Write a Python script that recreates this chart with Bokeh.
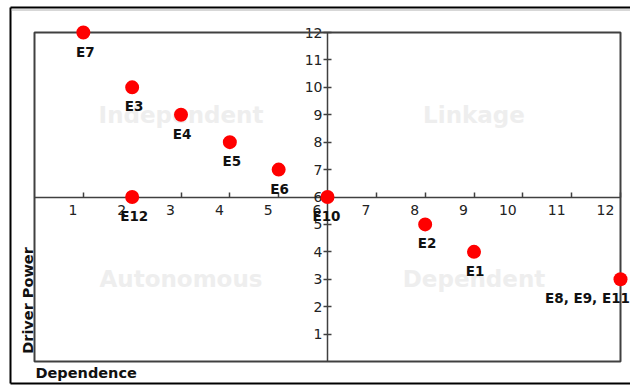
import math
from bokeh.plotting import figure
from bokeh.models import Range1d, LinearAxis, FixedTicker, ColumnDataSource
from bokeh.core.properties import value
from bokeh.embed import file_html
from bokeh.resources import INLINE

# ---------------- data ----------------
names = ["E7", "E3", "E4", "E5", "E6", "E12", "E10", "E2", "E1", "E8, E9, E11"]
dependence = [1, 2, 3, 4, 5, 2, 6, 8, 9, 12]
driver_power = [12, 10, 9, 8, 7, 6, 6, 5, 4, 3]
x_ticks = list(range(1, 13))
y_ticks = list(range(1, 13))
quadrant_names = ["Independent", "Linkage", "Autonomous", "Dependent"]
quadrant_dep = [3, 9, 3, 9]
quadrant_drv = [9, 9, 3, 3]
x_title = "Dependence"
y_title = "Driver Power"

# ---------------- layout ----------------
W, H = 630, 385
X_LIM = (0, 12)
Y_LIM = (0, 12)
MID = 6
X0_PX, X12_PX = 34, 620
Y12_PX, Y0_PX = 32, 361
sx = (X12_PX - X0_PX) / (X_LIM[1] - X_LIM[0])
sy = (Y0_PX - Y12_PX) / (Y_LIM[1] - Y_LIM[0])


def dx(px):
    return X_LIM[0] + (px - X0_PX) / sx


def dy(py):
    return Y_LIM[0] + (Y0_PX - py) / sy


label_dx = [2, 2, 1, 2, 1, 2, -1, 2, 1, -33]

FONT = "DejaVu Sans"
AXIS_COLOR = "#404040"
TICK_FONT_SIZE = "14px"

p = figure(width=W, height=H, output_backend="svg", toolbar_location=None,
           x_range=Range1d(dx(0), dx(W)), y_range=Range1d(dy(H), dy(0)),
           x_axis_type=None, y_axis_type=None,
           min_border_left=0, min_border_right=0, min_border_top=0, min_border_bottom=0)
p.outline_line_color = None
p.xgrid.visible = False
p.ygrid.visible = False
p.background_fill_color = "white"
p.border_fill_color = "white"

# outer border (left, top and bottom edges; the right edge lies beyond the page)
p.segment(x0=[dx(10), dx(10), dx(10)], x1=[dx(10), dx(W + 5), dx(W + 5)],
          y0=[dy(7), dy(7), dy(383)], y1=[dy(383), dy(7), dy(383)],
          line_color="black", line_width=2)
p.segment(x0=[dx(11)], x1=[dx(W + 5)], y0=[dy(9.5)], y1=[dy(9.5)], line_color="#b0b0b0", line_width=1)

# quadrant names
p.text(x=quadrant_dep, y=quadrant_drv, text=quadrant_names,
       text_font=value(FONT), text_font_style="bold", text_font_size="23px",
       text_color="#eeeeee", text_align="center", text_baseline="middle")

# inner frame
p.quad(left=[X_LIM[0]], right=[X_LIM[1]], bottom=[Y_LIM[0]], top=[Y_LIM[1]],
       fill_color=None, line_color=AXIS_COLOR, line_width=2)

# horizontal axis (line + ticks) crossing at the middle
xaxis = LinearAxis(fixed_location=MID, bounds=X_LIM, ticker=FixedTicker(ticks=x_ticks),
                   major_tick_in=5, major_tick_out=0, minor_tick_line_color=None,
                   axis_line_color=AXIS_COLOR, axis_line_width=1.5,
                   major_tick_line_color=AXIS_COLOR, major_tick_line_width=1.5,
                   major_label_text_color=None, major_label_text_font_size="0px")
xaxis.level = "underlay"
p.add_layout(xaxis, "below")

# its tick labels sit just left of each tick (as in the reference)
label_pos = [t - (6 + 4.5 * len(str(t))) / sx for t in x_ticks]
xlabels = LinearAxis(fixed_location=MID, bounds=X_LIM, ticker=FixedTicker(ticks=label_pos),
                     major_label_overrides={pos: str(t) for pos, t in zip(label_pos, x_ticks)},
                     major_tick_in=0, major_tick_out=0, minor_tick_line_color=None,
                     axis_line_color=None, major_tick_line_color=None,
                     major_label_text_font=FONT, major_label_text_font_size=TICK_FONT_SIZE,
                     major_label_text_color="#222222", major_label_standoff=8)
xlabels.level = "underlay"
p.add_layout(xlabels, "below")

yaxis = LinearAxis(fixed_location=MID, bounds=Y_LIM, ticker=FixedTicker(ticks=y_ticks),
                   major_tick_in=4, major_tick_out=4, minor_tick_line_color=None,
                   axis_line_color=AXIS_COLOR, axis_line_width=1.5,
                   major_tick_line_color=AXIS_COLOR, major_tick_line_width=1.5,
                   major_label_text_font=FONT, major_label_text_font_size=TICK_FONT_SIZE,
                   major_label_text_color="#222222", major_label_standoff=1)
yaxis.level = "underlay"
p.add_layout(yaxis, "left")

# points + labels
src = ColumnDataSource(dict(x=dependence, y=driver_power, name=names, xo=label_dx))
p.scatter(x="x", y="y", source=src, size=14, fill_color="#ff0000", line_color=None)
p.text(x="x", y="y", text="name", source=src, x_offset="xo", y_offset=19,
       text_font=value(FONT), text_font_style="bold", text_font_size="13.5px",
       text_color="#111111", text_align="center", text_baseline="middle")

# axis titles
p.text(x=[dx(35)], y=[dy(372)], text=[x_title], text_font=value(FONT), text_font_style="bold",
       text_font_size="14.5px", text_color="#111111", text_align="left", text_baseline="middle")
p.text(x=[dx(27)], y=[dy(300)], text=[y_title], angle=math.pi / 2, text_font=value(FONT),
       text_font_style="bold", text_font_size="14.5px", text_color="#111111",
       text_align="center", text_baseline="middle")

open("out.html", "w").write(file_html(p, INLINE))
